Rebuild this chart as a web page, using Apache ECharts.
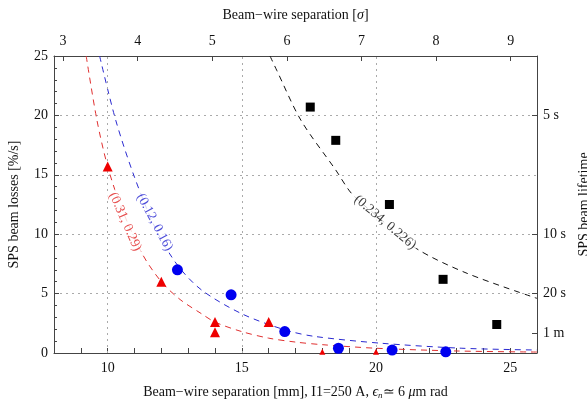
<!DOCTYPE html>
<html>
<head>
<meta charset="utf-8">
<script src="https://cdn.jsdelivr.net/npm/echarts@6/dist/echarts.min.js"></script>
<style>
  html, body { margin: 0; padding: 0; background: #fff; }
  #chart { width: 587px; height: 405px; }
</style>
</head>
<body>
<div id="chart"></div>
<script>
// separation in mm (x) vs. SPS beam losses in %/s (y)
var redTriangles = [[10, 15.7], [12, 6.0], [14, 2.6], [14, 1.75], [16, 2.6], [18, 0.1], [20, 0.1]];
var blueDots = [[12.6, 7.0], [14.6, 4.9], [16.6, 1.8], [18.6, 0.4], [20.6, 0.25], [22.6, 0.1]];
var blackSquares = [[17.55, 20.7], [18.5, 17.9], [20.5, 12.5], [22.5, 6.2], [24.5, 2.4]];

// fitted curves
var redFit = [[9.2, 25], [9.6, 19.6], [10, 15.7], [10.5, 12.3], [11.3, 8.3], [12, 6.0], [12.7, 4.5],
              [13.5, 3.3], [14, 2.6], [15, 1.8], [16, 1.25], [17, 0.92], [18, 0.7], [20, 0.4], [23, 0.17], [26, 0.08]];
var blueFit = [[9.7, 25], [10.3, 19.6], [11, 14.8], [11.8, 10.4], [12.6, 7.4], [13.5, 5.3], [15, 3.3],
               [16.6, 1.95], [17.7, 1.4], [20.2, 0.82], [23.2, 0.4], [26, 0.25]];
var blackFit = [[16.05, 25], [16.3, 23.8], [17.2, 19.6], [18.5, 15.4], [19.1, 13.4], [20, 11.6],
                [21.5, 8.8], [23.4, 6.7], [26, 4.6]];

// curve labels: position (mm, %/s), text, angle
var fitLabels = [
  { pos: [10.65, 11.05], text: '(0.31, 0.29)', rot: -66, color: '#e02020' },
  { pos: [11.75, 11.0], text: '(0.12, 0.16)', rot: -62, color: '#2020d0' },
  { pos: [20.34, 11.0], text: '(0.234, 0.226)', rot: -40, color: '#000' }
];

var gridX = [10, 15, 20];
var sigmaTicks = [3, 4, 5, 6, 7, 8, 9];
var mmPerSigma = 2.78;
var lifetimeValues = [20, 10, 5, 100 / 60];
var lifetimeLabels = ['5 s', '10 s', '20 s', '1 m'];

var font = 'Liberation Serif';
var axisCol = '#444';
var gridCol = '#aaa';

var chart = echarts.init(document.getElementById('chart'));

var labelSeries = fitLabels.map(function (l) {
  return {
    type: 'scatter',
    data: [l.pos],
    symbolSize: 0,
    silent: true,
    z: 5,
    label: {
      show: true,
      position: 'inside',
      rotate: l.rot,
      formatter: l.text,
      color: l.color,
      fontFamily: font,
      fontSize: 13.5,
      backgroundColor: '#fff',
      padding: [0, 2]
    }
  };
});

var option = {
  animation: false,
  backgroundColor: '#fff',
  textStyle: { fontFamily: font },
  grid: { left: 54, right: 50, top: 56, bottom: 52, outerBoundsMode: 'none', containLabel: false },
  xAxis: [{
    type: 'value',
    position: 'bottom',
    min: 8, max: 26, interval: 1,
    name: 'Beam\u2212wire separation [mm], I1=250 A, {e|\u03f5}{s|n}\u2243 6 {e|\u03bc}m rad',
    nameLocation: 'middle',
    nameGap: 32,
    nameTextStyle: {
      fontFamily: font, fontSize: 14, color: '#111',
      rich: {
        e: { fontFamily: font, fontSize: 14, fontStyle: 'italic', color: '#111' },
        s: { fontFamily: font, fontSize: 9, fontStyle: 'italic', color: '#111', verticalAlign: 'bottom', padding: [6, 0, 0, 0] }
      }
    },
    axisLine: { onZero: false, lineStyle: { color: axisCol } },
    axisTick: { inside: true, length: 5, lineStyle: { color: axisCol } },
    axisLabel: {
      color: '#111', fontSize: 14, margin: 8,
      formatter: function (v) { return v % 5 === 0 ? String(v) : ''; }
    },
    splitLine: { show: false }
  }, {
    type: 'value',
    position: 'top',
    min: 8 / mmPerSigma, max: 26 / mmPerSigma,
    name: 'Beam\u2212wire separation [{i|\u03c3}]',
    nameLocation: 'middle',
    nameGap: 34,
    nameTextStyle: {
      fontFamily: font, fontSize: 14, color: '#111',
      rich: { i: { fontFamily: font, fontSize: 14, fontStyle: 'italic', color: '#111' } }
    },
    axisLine: { onZero: false, lineStyle: { color: axisCol } },
    axisTick: { inside: true, length: 5, customValues: sigmaTicks, lineStyle: { color: axisCol } },
    axisLabel: { color: '#111', fontSize: 14, margin: 8, customValues: sigmaTicks },
    splitLine: { show: false }
  }],
  yAxis: [{
    type: 'value',
    position: 'left',
    min: 0, max: 25, interval: 5,
    name: 'SPS beam losses [%/s]',
    nameLocation: 'middle',
    nameGap: 33,
    nameTextStyle: { fontFamily: font, fontSize: 14, color: '#111' },
    axisLine: { show: true, onZero: false, lineStyle: { color: axisCol } },
    axisTick: { show: true, inside: true, length: 5, lineStyle: { color: axisCol } },
    minorTick: { show: true, splitNumber: 5, length: 3, lineStyle: { color: axisCol } },
    axisLabel: { color: '#111', fontSize: 14, margin: 6 },
    splitLine: { show: true, lineStyle: { color: gridCol, type: [2, 4], width: 1 } }
  }, {
    type: 'value',
    position: 'right',
    min: 0, max: 25,
    name: 'SPS beam lifetime',
    nameLocation: 'middle',
    nameRotate: 90,
    nameGap: 40,
    nameTextStyle: { fontFamily: font, fontSize: 14, color: '#111' },
    axisLine: { show: true, onZero: false, lineStyle: { color: axisCol } },
    axisTick: { show: true, inside: true, length: 5, customValues: lifetimeValues, lineStyle: { color: axisCol } },
    axisLabel: {
      color: '#111', fontSize: 14, margin: 6, customValues: lifetimeValues,
      formatter: function (v) {
        for (var i = 0; i < lifetimeValues.length; i++) {
          if (Math.abs(lifetimeValues[i] - v) < 1e-6) return lifetimeLabels[i];
        }
        return '';
      }
    },
    splitLine: { show: false }
  }],
  series: [{
    type: 'line',
    data: redFit,
    showSymbol: false,
    smooth: 0.3,
    clip: true,
    silent: true,
    lineStyle: { color: '#e03030', width: 1, type: [6, 5] },
    markLine: {
      silent: true,
      symbol: ['none', 'none'],
      label: { show: false },
      lineStyle: { color: gridCol, type: [2, 4], width: 1 },
      data: gridX.map(function (x) { return { xAxis: x }; })
    }
  }, {
    type: 'line',
    data: blueFit,
    showSymbol: false,
    smooth: 0.3,
    clip: true,
    silent: true,
    lineStyle: { color: '#2a2ad0', width: 1, type: [6, 5] }
  }, {
    type: 'line',
    data: blackFit,
    showSymbol: false,
    smooth: 0.3,
    clip: true,
    silent: true,
    lineStyle: { color: '#111', width: 1, type: [6, 5] }
  }].concat(labelSeries).concat([{
    type: 'scatter',
    data: redTriangles,
    symbol: 'triangle',
    // points sitting on the axis only show their tip in the original
    symbolSize: function (v) { return v[1] < 0.5 ? 6 : 10; },
    z: 6,
    itemStyle: { color: '#ee0000', opacity: 1 }
  }, {
    type: 'scatter',
    data: blueDots,
    symbol: 'circle',
    symbolSize: 11,
    z: 6,
    itemStyle: { color: '#0000f0', opacity: 1 }
  }, {
    type: 'scatter',
    data: blackSquares,
    symbol: 'rect',
    symbolSize: 9,
    z: 6,
    itemStyle: { color: '#000', opacity: 1 }
  }])
};

chart.setOption(option);
</script>
</body>
</html>
